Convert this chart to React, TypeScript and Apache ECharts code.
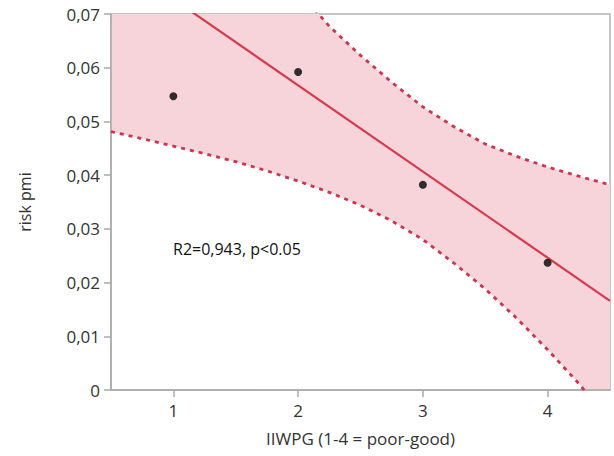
import React, { useEffect, useRef } from "react";
import * as echarts from "echarts";

// Observed points
const pointX = [1, 2, 3, 4];
const pointY = [0.0547, 0.0592, 0.0382, 0.0237];

// Fitted line (at the plot edges)
const fitX = [0.5, 4.5];
const fitY = [0.0808, 0.0166];

// Confidence band
const bandX = [0.5, 0.75, 1, 1.25, 1.5, 1.75, 2, 2.25, 2.5, 2.75, 3, 3.25, 3.5, 3.75, 4, 4.25, 4.5];
const bandLower = [0.0481, 0.0468, 0.0454, 0.044, 0.0425, 0.0408, 0.0389, 0.0368, 0.0344, 0.0315, 0.028, 0.0236, 0.0188, 0.0134, 0.0075, 0.0012, -0.0058];
const bandUpper = [0.126, 0.117, 0.108, 0.099, 0.0902, 0.0819, 0.0744, 0.0677, 0.0623, 0.0573, 0.0527, 0.049, 0.0458, 0.0435, 0.0415, 0.0398, 0.0382];

// Axis ticks
const xTicks = [1, 2, 3, 4];
const yTicks = [0, 0.01, 0.02, 0.03, 0.04, 0.05, 0.06, 0.07];

const xTitle = "IIWPG (1-4 = poor-good)";
const yTitle = "risk pmi";
const annotation = "R2=0,943, p<0.05";

const FONT = "'Segoe UI', 'Open Sans', sans-serif";
const LABEL = "#333";
const AXIS = "#a8a8a8";
const RED = "#d63a4e";
const DASH_RED = "#cc3550";
const PINK = "#f7d4da";

export default function App() {
  const ref = useRef<HTMLDivElement>(null);
  useEffect(() => {
    document.body.style.margin = "0";
    const chart = echarts.init(ref.current!, null, { renderer: "svg" });
    const lowerData = bandX.map((x, i) => [x, bandLower[i]]);
    const upperData = bandX.map((x, i) => [x, bandUpper[i]]);
    chart.setOption({
      animation: false,
      grid: {
        left: 111,
        top: 14,
        right: 4,
        bottom: 66,
        show: true,
        borderColor: "#b4b4b4",
        borderWidth: 1.5,
        backgroundColor: "transparent",
      },
      xAxis: {
        type: "value",
        min: 0.5,
        max: 4.5,
        name: xTitle,
        nameLocation: "middle",
        nameGap: 40,
        nameTextStyle: { fontFamily: FONT, fontSize: 17, color: LABEL },
        axisLine: { show: true, lineStyle: { color: AXIS, width: 1.5 } },
        axisTick: { show: true, length: 7, customValues: xTicks, lineStyle: { color: AXIS, width: 1.5 } },
        axisLabel: {
          customValues: xTicks,
          margin: 12,
          fontFamily: FONT,
          fontSize: 17,
          color: LABEL,
        },
        splitLine: { show: false },
      },
      yAxis: {
        type: "value",
        min: 0,
        max: 0.07,
        interval: 0.01,
        name: yTitle,
        nameLocation: "middle",
        nameGap: 78,
        nameTextStyle: { fontFamily: FONT, fontSize: 16, color: LABEL },
        axisLine: { show: true, lineStyle: { color: AXIS, width: 1.5 } },
        axisTick: { show: true, length: 7, customValues: yTicks, lineStyle: { color: AXIS, width: 1.5 } },
        axisLabel: {
          customValues: yTicks,
          margin: 11,
          fontFamily: FONT,
          fontSize: 17,
          color: LABEL,
          formatter: (v: number) => (v === 0 ? "0" : v.toFixed(2).replace(".", ",")),
        },
        splitLine: { show: false },
      },
      series: [
        {
          type: "custom",
          clip: true,
          data: [[0]],
          silent: true,
          z: 0,
          renderItem: (_params: any, api: any) => {
            const pts = [
              ...upperData.map((p) => api.coord(p)),
              ...lowerData.slice().reverse().map((p) => api.coord(p)),
            ];
            return {
              type: "polygon",
              shape: { points: pts },
              style: { fill: PINK, stroke: "none" },
            };
          },
        },
        {
          type: "line",
          data: lowerData,
          symbol: "none",
          lineStyle: { color: DASH_RED, width: 2.8, type: [4, 5] },
          z: 1,
        },
        {
          type: "line",
          data: upperData,
          symbol: "none",
          lineStyle: { color: DASH_RED, width: 2.8, type: [4, 5] },
          z: 1,
        },
        {
          type: "line",
          data: fitX.map((x, i) => [x, fitY[i]]),
          symbol: "none",
          lineStyle: { color: RED, width: 2.2 },
          z: 2,
        },
        {
          type: "scatter",
          data: pointX.map((x, i) => [x, pointY[i]]),
          symbolSize: 8,
          itemStyle: { color: "#000" },
          z: 3,
        },
      ],
      graphic: [
        {
          type: "text",
          left: 173,
          top: 241,
          style: { text: annotation, fontFamily: "'Open Sans', sans-serif", fontSize: 16, fill: "#111" },
        },
      ],
    });
    return () => chart.dispose();
  }, []);
  return <div ref={ref} style={{ width: 614, height: 456 }} />;
}
